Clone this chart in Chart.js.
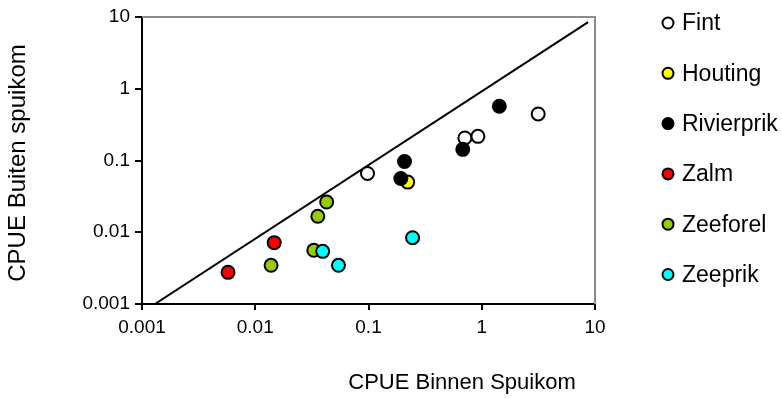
<!DOCTYPE html>
<html>
<head>
<meta charset="utf-8">
<script src="https://cdn.jsdelivr.net/npm/chart.js@4"></script>
<style>
  body { margin: 0; background: #fff; }
  #box { width: 782px; height: 399px; }
</style>
</head>
<body>
<div id="box"><canvas id="chart" width="782" height="399"></canvas></div>
<script>
/* data (CPUE Binnen vs Buiten spuikom) */
const seriesNames = ["Fint", "Houting", "Rivierprik", "Zalm", "Zeeforel", "Zeeprik"];
const fintX = [0.098, 0.71, 0.925, 3.15];
const fintY = [0.066, 0.206, 0.217, 0.445];
const houtingX = [0.222];
const houtingY = [0.05];
const rivierprikX = [0.208, 0.193, 0.68, 1.43];
const rivierprikY = [0.097, 0.056, 0.143, 0.569];
const zalmX = [0.00575, 0.0147];
const zalmY = [0.00276, 0.00716];
const zeeforelX = [0.0138, 0.0329, 0.0357, 0.0427];
const zeeforelY = [0.00346, 0.0056, 0.0167, 0.0264];
const zeeprikX = [0.0394, 0.0543, 0.245];
const zeeprikY = [0.00542, 0.00346, 0.0084];
const lineX = [0.0013, 8.7];
const lineY = [0.001, 8.5];
const xTicks = [0.001, 0.01, 0.1, 1, 10];
const yTicks = [0.001, 0.01, 0.1, 1, 10];

const fillColors = ["#ffffff", "#ffff00", "#000000", "#ff0000", "#99cc00", "#00ffff"];
const FONT = "'Liberation Sans', Arial, sans-serif";

function pairs(xs, ys) {
  let out = [];
  for (let i = 0; i < xs.length; i++) {
    out.push({ x: xs[i], y: ys[i] });
  }
  return out;
}

const allX = [fintX, houtingX, rivierprikX, zalmX, zeeforelX, zeeprikX];
const allY = [fintY, houtingY, rivierprikY, zalmY, zeeforelY, zeeprikY];

let datasets = [];
let i = 0;
while (i < seriesNames.length) {
  datasets.push({
    label: seriesNames[i],
    data: pairs(allX[i], allY[i]),
    backgroundColor: fillColors[i],
    borderColor: "#000000",
    borderWidth: 2,
    pointRadius: 6.5,
    pointHoverRadius: 6.5,
    order: seriesNames.length - i // later series on top, like excel
  });
  i++;
}
datasets.push({
  label: "1:1",
  type: "line",
  data: pairs(lineX, lineY),
  borderColor: "#000000",
  borderWidth: 2,
  pointRadius: 0,
  fill: false,
  order: 20
});

/* grey frame on top/right of the plot area */
const framePlugin = {
  id: "frame",
  beforeDatasetsDraw(chart) {
    const a = chart.chartArea;
    const ctx = chart.ctx;
    ctx.save();
    ctx.strokeStyle = "#8c8c8c";
    ctx.lineWidth = 2;
    ctx.beginPath();
    ctx.moveTo(a.left, a.top);
    ctx.lineTo(a.right, a.top);
    ctx.lineTo(a.right, a.bottom);
    ctx.stroke();
    ctx.restore();
  }
};

/* axis titles + legend, placed like the original */
const labelPlugin = {
  id: "labels",
  afterDraw(chart) {
    const ctx = chart.ctx;
    ctx.save();
    ctx.fillStyle = "#000";
    ctx.font = "22px " + FONT;
    ctx.textAlign = "center";
    ctx.textBaseline = "middle";
    ctx.fillText("CPUE Binnen Spuikom", 462, 383);
    ctx.font = "24px " + FONT;
    ctx.translate(18, 163);
    ctx.rotate(-Math.PI / 2);
    ctx.fillText("CPUE Buiten spuikom", 0, 0);
    ctx.restore();

    ctx.save();
    ctx.font = "23px " + FONT;
    ctx.textAlign = "left";
    ctx.textBaseline = "middle";
    for (let k = 0; k < seriesNames.length; k++) {
      let y = 23 + k * 50.3;
      ctx.beginPath();
      ctx.arc(668, y, 5.5, 0, Math.PI * 2);
      ctx.fillStyle = fillColors[k];
      ctx.fill();
      ctx.lineWidth = 2;
      ctx.strokeStyle = "#000";
      ctx.stroke();
      ctx.fillStyle = "#000";
      ctx.fillText(seriesNames[k], 682, y + 1);
    }
    ctx.restore();
  }
};

function axisTicks(list) {
  return function (scale) {
    scale.ticks = list.map(function (v) { return { value: v }; });
  };
}

new Chart("chart", {
  type: "scatter",
  data: { datasets: datasets },
  plugins: [framePlugin, labelPlugin],
  options: {
    responsive: false,
    animation: false,
    devicePixelRatio: 1,
    layout: { padding: { left: 0, top: 17, right: 187, bottom: 0 } },
    plugins: {
      legend: { display: false },
      tooltip: { enabled: false }
    },
    scales: {
      x: {
        type: "logarithmic",
        min: 0.001,
        max: 10,
        afterBuildTicks: axisTicks(xTicks),
        afterFit: function (scale) { scale.height = 95; },
        border: { color: "#000", width: 2 },
        grid: { drawOnChartArea: false, drawTicks: true, tickLength: 6, color: "#000", lineWidth: 2 },
        ticks: {
          color: "#000",
          font: { family: FONT, size: 19 },
          padding: 6,
          maxRotation: 0,
          callback: function (value) { return String(value); }
        }
      },
      y: {
        type: "logarithmic",
        min: 0.001,
        max: 10,
        afterBuildTicks: axisTicks(yTicks),
        afterFit: function (scale) { scale.width = 142; },
        border: { color: "#000", width: 2 },
        grid: { drawOnChartArea: false, drawTicks: true, tickLength: 7, color: "#000", lineWidth: 2 },
        ticks: {
          color: "#000",
          font: { family: FONT, size: 19 },
          padding: 5,
          callback: function (value) { return String(value); }
        }
      }
    }
  }
});
</script>
</body>
</html>
